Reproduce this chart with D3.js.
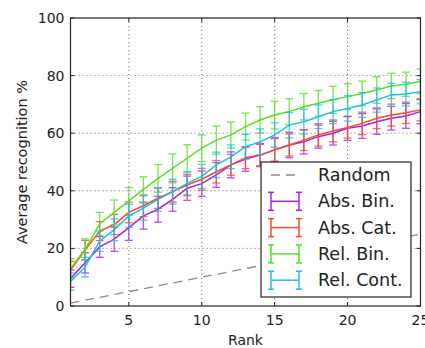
<!DOCTYPE html>
<html>
<head>
<meta charset="utf-8">
<script src="https://cdn.jsdelivr.net/npm/d3@7"></script>
<style>
  html, body { margin: 0; padding: 0; background: #fff; }
  svg { display: block; font-family: "DejaVu Sans", sans-serif; }
</style>
</head>
<body>
<svg id="chart" width="425" height="348"></svg>
<script>
// Recognition rate versus rank for four encodings, plus the random baseline
const ranks = [1,2,3,4,5,6,7,8,9,10,11,12,13,14,15,16,17,18,19,20,21,22,23,24,25];
const randomLine = [1,2,3,4,5,6,7,8,9,10,11,12,13,14,15,16,17,18,19,20,21,22,23,24,25];

const absBin    = [9.5,15,20.5,23.2,27.2,31.3,33.6,37,40.9,42.5,45.5,49,51,52.4,54.2,55.9,57,58.8,60,61.7,62.5,64,65.2,66,67.5];
const absBinErr = [3,3.5,3.6,4.2,4.4,4.6,4.5,4.1,4.2,4.4,4.3,4.5,4.2,4,4.3,4.4,4.2,4,4.1,4.2,4.3,4.4,4.1,4.3,4.2];

const absCat    = [12.5,19.4,26,28.3,32.5,34.8,37.4,39.7,42,44,46.6,49,51.5,52.4,54.2,55.9,57.6,59.4,60.8,62,63.4,65.2,66.3,67.1,68.1];
const absCatErr = [3,3.4,3.3,3.5,3.6,3.8,3.5,3.6,3.7,3.8,3.9,3.6,3.8,3.7,3.9,3.8,3.6,3.9,3.8,3.7,3.9,3.6,3.8,3.7,3.8];

const relBin    = [13,19.7,28.5,32.5,36.5,40.5,44.3,47.8,51.3,54.8,57.6,59.4,62.3,64.6,66.3,67.5,69.2,70.4,71.6,72.7,73.8,75,76.4,77,78];
const relBinErr = [3.4,3.6,4,4.3,4.6,4.4,4.8,5,4.7,4.6,4.9,4.5,4.7,4.6,4.8,4.5,4.6,4.4,4.7,4.5,4.3,4.6,4.4,4.2,4.3];

const relCont    = [8.5,13.5,22.5,26.5,31.3,34,37,39.7,42.6,45,49,51.8,55.3,57,59.4,62.8,64,65.7,67.5,68.6,69.8,71.5,73.3,73.6,74.4];
const relContErr = [3,3.4,3.5,3.8,4,4.2,4.1,4.3,4,4.2,4.4,4.1,4.3,4.5,4.2,4.4,4.3,4.1,4.2,4.4,4.3,4.2,4.0,4.1,4.2];

const seriesNames  = ["Abs. Bin.", "Abs. Cat.", "Rel. Bin.", "Rel. Cont."];
const seriesColors = ["#a524ec", "#f84a26", "#55e022", "#22bcee"];
const seriesValues = [absBin, absCat, relBin, relCont];
const seriesErrors = [absBinErr, absCatErr, relBinErr, relContErr];

const xTicks = [5, 10, 15, 20, 25];
const yTicks = [0, 20, 40, 60, 80, 100];

const svg = d3.select("#chart");
const plotLeft = 70.5, plotRight = 420.5, plotTop = 18, plotBottom = 306;

const x = d3.scaleLinear().domain([1, 25]).range([plotLeft, plotRight]);
const y = d3.scaleLinear().domain([0, 100]).range([plotBottom, plotTop]);

svg.append("defs").append("clipPath").attr("id", "plotclip")
  .append("rect").attr("x", plotLeft).attr("y", plotTop)
  .attr("width", plotRight - plotLeft).attr("height", plotBottom - plotTop);

// dotted grid
const grid = svg.append("g").attr("stroke", "#444").attr("stroke-width", 0.8)
  .attr("stroke-dasharray", "1,3");
grid.selectAll(".gx").data(xTicks.filter(t => t < 25)).join("line")
  .attr("x1", d => x(d)).attr("x2", d => x(d)).attr("y1", plotTop).attr("y2", plotBottom);
grid.selectAll(".gy").data(yTicks.filter(t => t > 0 && t < 100)).join("line")
  .attr("x1", plotLeft).attr("x2", plotRight).attr("y1", d => y(d)).attr("y2", d => y(d));

const plot = svg.append("g").attr("clip-path", "url(#plotclip)");

// random baseline
plot.append("path")
  .datum(ranks.map((r, i) => [r, randomLine[i]]))
  .attr("fill", "none").attr("stroke", "#8c8c8c").attr("stroke-width", 1.3)
  .attr("stroke-dasharray", "9,6")
  .attr("d", d3.line().x(d => x(d[0])).y(d => y(d[1])));

// series lines with error bars
const capHalf = 4;
seriesValues.forEach((vals, s) => {
  const color = seriesColors[s];
  const errs = seriesErrors[s];
  const g = plot.append("g");
  const pts = ranks.map((r, i) => ({ r, v: vals[i], e: errs[i] }));
  const eb = g.append("g").attr("stroke", color).attr("stroke-width", 1.3).attr("opacity", 0.8);
  eb.selectAll(".v").data(pts).join("line")
    .attr("x1", d => x(d.r)).attr("x2", d => x(d.r))
    .attr("y1", d => y(d.v - d.e)).attr("y2", d => y(d.v + d.e));
  eb.selectAll(".ct").data(pts).join("line")
    .attr("x1", d => x(d.r) - capHalf).attr("x2", d => x(d.r) + capHalf)
    .attr("y1", d => y(d.v + d.e)).attr("y2", d => y(d.v + d.e));
  eb.selectAll(".cb").data(pts).join("line")
    .attr("x1", d => x(d.r) - capHalf).attr("x2", d => x(d.r) + capHalf)
    .attr("y1", d => y(d.v - d.e)).attr("y2", d => y(d.v - d.e));
  g.append("path").datum(pts)
    .attr("fill", "none").attr("stroke", color).attr("stroke-width", 1.5)
    .attr("d", d3.line().x(d => x(d.r)).y(d => y(d.v)));
});

// frame and inward ticks on all four sides
const tickLen = 4;
const axisG = svg.append("g").attr("stroke", "#222").attr("stroke-width", 1);
axisG.selectAll(".xb").data(xTicks).join("line")
  .attr("x1", d => x(d)).attr("x2", d => x(d)).attr("y1", plotBottom).attr("y2", plotBottom - tickLen);
axisG.selectAll(".xt").data(xTicks).join("line")
  .attr("x1", d => x(d)).attr("x2", d => x(d)).attr("y1", plotTop).attr("y2", plotTop + tickLen);
axisG.selectAll(".yl").data(yTicks).join("line")
  .attr("x1", plotLeft).attr("x2", plotLeft + tickLen).attr("y1", d => y(d)).attr("y2", d => y(d));
axisG.selectAll(".yr").data(yTicks).join("line")
  .attr("x1", plotRight).attr("x2", plotRight - tickLen).attr("y1", d => y(d)).attr("y2", d => y(d));
svg.append("rect").attr("x", plotLeft).attr("y", plotTop)
  .attr("width", plotRight - plotLeft).attr("height", plotBottom - plotTop)
  .attr("fill", "none").attr("stroke", "#222").attr("stroke-width", 1.2);

// tick labels
svg.append("g").selectAll("text").data(xTicks).join("text")
  .attr("x", d => x(d)).attr("y", plotBottom + 19)
  .attr("text-anchor", "middle").attr("font-size", 14).attr("fill", "#222")
  .text(d => d);
svg.append("g").selectAll("text").data(yTicks).join("text")
  .attr("x", plotLeft - 6).attr("y", d => y(d) + 5)
  .attr("text-anchor", "end").attr("font-size", 14).attr("fill", "#222")
  .text(d => d);

// axis titles
svg.append("text").attr("x", (plotLeft + plotRight) / 2).attr("y", 345)
  .attr("text-anchor", "middle").attr("font-size", 14).attr("fill", "#222")
  .text("Rank");
svg.append("text")
  .attr("transform", `translate(27,${(plotTop + plotBottom) / 2}) rotate(-90)`)
  .attr("text-anchor", "middle").attr("font-size", 14.5).attr("fill", "#222")
  .text("Average recognition %");

// legend
const lg = svg.append("g");
lg.append("rect").attr("x", 261).attr("y", 162).attr("width", 150).attr("height", 135)
  .attr("fill", "#fff").attr("stroke", "#222").attr("stroke-width", 1.2);
const rowY = i => 175 + i * 26.3;
const h0 = 271, h1 = 299;
lg.append("line").attr("x1", h0).attr("x2", h1).attr("y1", rowY(0)).attr("y2", rowY(0))
  .attr("stroke", "#8c8c8c").attr("stroke-width", 1.3).attr("stroke-dasharray", "9,6");
lg.append("text").attr("x", 318).attr("y", rowY(0) + 6).attr("font-size", 17.5).attr("fill", "#222").text("Random");
seriesNames.forEach((name, i) => {
  const cy = rowY(i + 1);
  const c = seriesColors[i];
  const g = lg.append("g").attr("stroke", c).attr("stroke-width", 1.5);
  g.append("line").attr("x1", h0).attr("x2", h1).attr("y1", cy).attr("y2", cy);
  [h0, h1].forEach(hx => {
    g.append("line").attr("x1", hx).attr("x2", hx).attr("y1", cy - 9).attr("y2", cy + 9);
    g.append("line").attr("x1", hx - 3).attr("x2", hx + 3).attr("y1", cy - 9).attr("y2", cy - 9);
    g.append("line").attr("x1", hx - 3).attr("x2", hx + 3).attr("y1", cy + 9).attr("y2", cy + 9);
  });
  lg.append("text").attr("x", 318).attr("y", cy + 6).attr("font-size", 17.5).attr("fill", "#222").text(name);
});
</script>
</body>
</html>
